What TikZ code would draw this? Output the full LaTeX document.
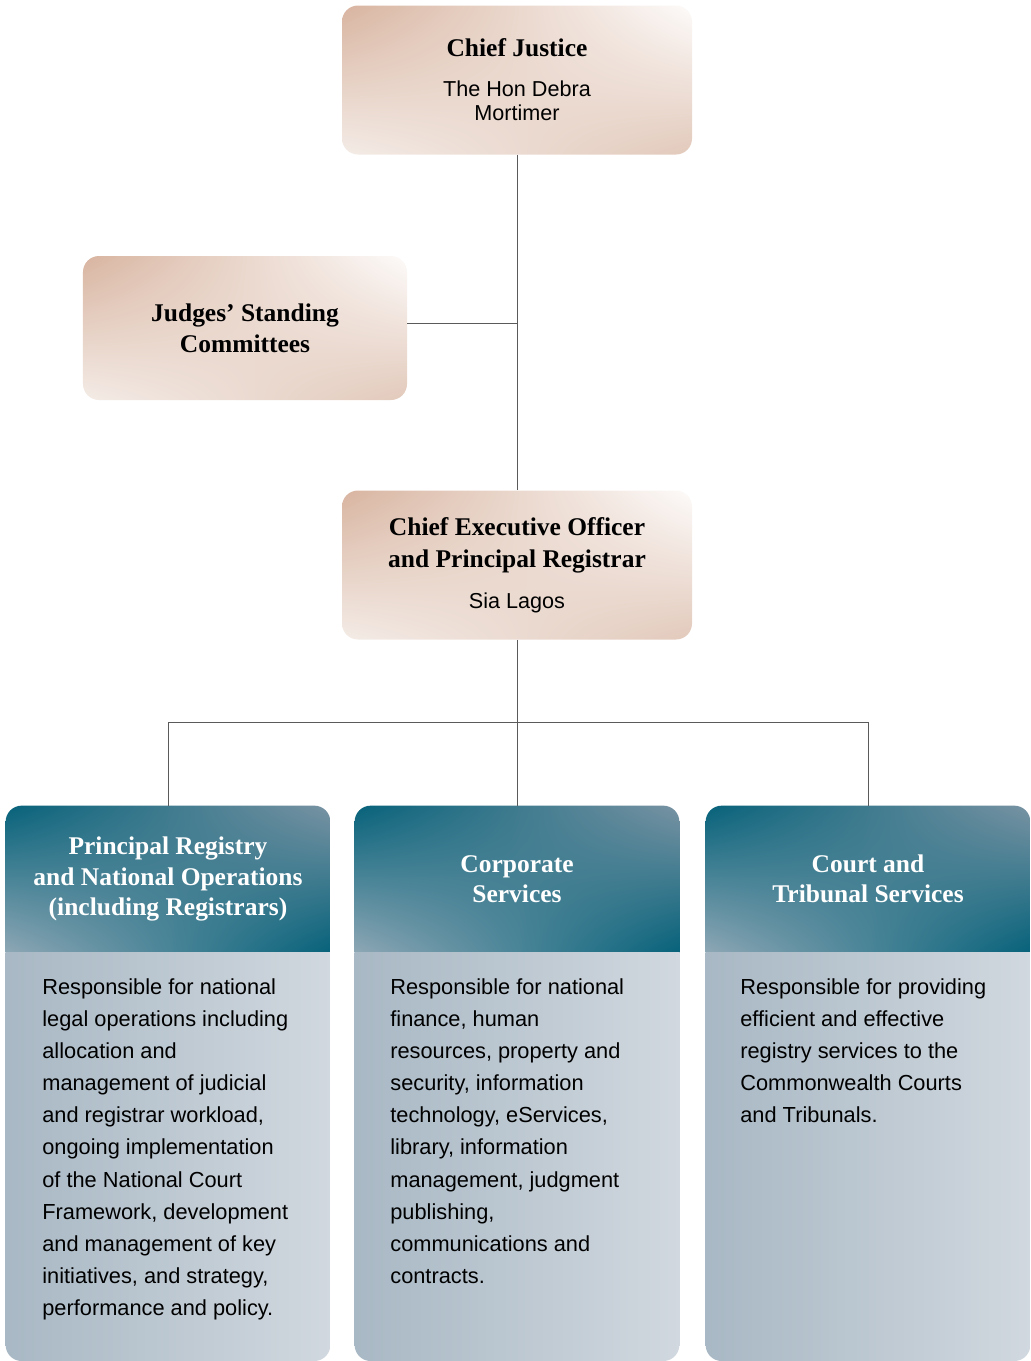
\documentclass[tikz,border=0pt]{standalone}
\usepackage{fontspec}
\setmainfont{Liberation Serif}
\newfontfamily\namefont{Liberation Sans}
\usetikzlibrary{positioning,shadings,backgrounds}

\definecolor{tandark}{HTML}{D8B4A0}
\definecolor{tanwhite}{HTML}{FDFBFA}
\definecolor{tanlight}{HTML}{F4ECE7}
\definecolor{tanmid}{HTML}{E2C9BB}
\definecolor{tealdark}{HTML}{06627A}
\definecolor{teallight}{HTML}{7893A3}
\definecolor{tealpale}{HTML}{8EA7B5}
\definecolor{bodyleft}{HTML}{A8B8C4}
\definecolor{bodyright}{HTML}{D1D8DF}
\definecolor{linegray}{HTML}{5A5A5A}

\newcommand\ttl{\rmfamily\fontsize{14.5}{17.4}\selectfont\bfseries}

\tikzset{
  beigebox/.style={shade, upper left=tandark, upper right=tanwhite,
    lower left=tanlight, lower right=tanmid, rounded corners=3.2mm,
    align=center, inner sep=0pt, text=black},
  header/.style={minimum width=64.8mm, minimum height=29.2mm, align=center,
    inner sep=0pt, text=white, font=\ttl},
  bodytext/.style={anchor=north west, align=left, inner sep=0pt,
    font=\namefont\fontsize{12.4}{18.3}\selectfont},
  tealshade/.style={upper left=tealdark, upper right=teallight,
    lower left=tealpale, lower right=tealdark},
  bodyshade/.style={left color=bodyleft, right color=bodyright},
  conn/.style={draw=linegray, line width=0.55pt}
}

\begin{document}
\begin{tikzpicture}[x=0.2mm, y=-0.2mm]
  \useasboundingbox (0,0) rectangle (1030,1361);
  \coordinate (bot) at (0,1361);

  \node[beigebox, minimum width=70mm, minimum height=29.8mm,
    font=\namefont\fontsize{12.3}{13.7}\selectfont] (cj) at (517,80)
    {{\ttl Chief Justice}\\[9pt] The Hon Debra\\Mortimer};
  \node[beigebox, minimum width=64.8mm, minimum height=28.8mm, font=\ttl]
    (jsc) at (245,328) {Judges' Standing\\Committees};
  \node[beigebox, minimum width=70mm, minimum height=29.8mm,
    font=\namefont\fontsize{12.3}{13.7}\selectfont] (ceo) at (517,565)
    {{\ttl Chief Executive Officer}\\[4.5pt]{\ttl and Principal Registrar}\\[9.6pt] Sia Lagos};

  \node[header] (prn) at (168,879)
    {Principal Registry\\and National Operations\\(including Registrars)};
  \node[header] (cs) at (517,879) {Corporate\\Services};
  \node[header] (cts) at (868,879) {Court and\\Tribunal Services};

  \node[bodytext] (prnt) at (42,978)
    {Responsible for national\\legal operations including\\allocation and\\management of judicial\\and registrar workload,\\ongoing implementation\\of the National Court\\Framework, development\\and management of key\\initiatives, and strategy,\\performance and policy.};
  \node[bodytext] (cst) at (390,978)
    {Responsible for national\\finance, human\\resources, property and\\security, information\\technology, eServices,\\library, information\\management, judgment\\publishing,\\communications and\\contracts.};
  \node[bodytext] (ctst) at (740,978)
    {Responsible for providing\\efficient and effective\\registry services to the\\Commonwealth Courts\\and Tribunals.};

  \coordinate (jsce) at ([yshift=1mm]jsc.east);
  \coordinate (jj) at (cj.south |- jsce);
  \coordinate (split) at (517,722);

  \draw[conn] (cj.south) -- (ceo.north);
  \draw[conn] (jsce) -- (jj);
  \draw[conn] (ceo.south) -- (cs.north);
  \draw[conn] (prn.north) |- (split) -| (cts.north);

  \begin{scope}[on background layer]
    \foreach \n in {prn,cs,cts}{
      \begin{scope}
        \clip[rounded corners=3.2mm] (\n.north west) rectangle (\n.south east |- bot);
        \shade[tealshade] (\n.north west) rectangle (\n.south east);
        \shade[bodyshade] (\n.south west) rectangle (\n.south east |- bot);
      \end{scope}
    }
  \end{scope}
\end{tikzpicture}
\end{document}
